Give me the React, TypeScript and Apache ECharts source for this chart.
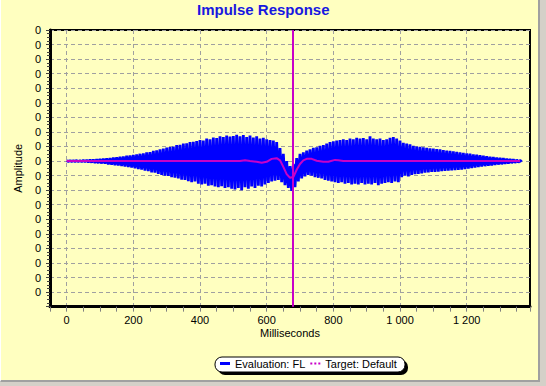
import React, { useEffect, useRef } from 'react';
import * as echarts from 'echarts';

// Evaluation: FL — upper / lower peaks of the dense response, one pair per 10 ms from 0 ms
const EVAL_STEP_MS = 10;
const EVAL_UPPER = [
  0.02, 0.02, 0.02, 0.03, 0.03, 0.05, 0.06, 0.08, 0.1, 0.12,
  0.14, 0.16, 0.18, 0.2, 0.24, 0.26, 0.3, 0.32, 0.36, 0.38,
  0.42, 0.46, 0.5, 0.52, 0.6, 0.62, 0.7, 0.74, 0.8, 0.85,
  0.92, 0.96, 1.0, 1.1, 1.12, 1.2, 1.22, 1.3, 1.32, 1.38,
  1.45, 1.4, 1.55, 1.5, 1.62, 1.58, 1.7, 1.65, 1.75, 1.68,
  1.72, 1.8, 1.7, 1.78, 1.65, 1.75, 1.62, 1.7, 1.55, 1.6,
  1.5, 1.45, 1.4, 1.3, 0.9, 0.5, 0.0, -0.35, -0.2, 0.2,
  0.5, 0.6, 0.72, 0.8, 0.9, 0.95, 1.05, 1.1, 1.2, 1.3,
  1.35, 1.4, 1.45, 1.5, 1.45, 1.55, 1.5, 1.6, 1.55, 1.58,
  1.5, 1.7, 1.55, 1.5, 1.55, 1.45, 1.5, 1.6, 1.65, 1.55,
  1.4, 1.25, 1.2, 1.15, 1.05, 1.0, 0.98, 0.95, 0.9, 0.88,
  0.85, 0.82, 0.8, 0.75, 0.72, 0.7, 0.66, 0.63, 0.6, 0.56,
  0.52, 0.5, 0.46, 0.43, 0.4, 0.36, 0.33, 0.3, 0.27, 0.24,
  0.22, 0.2, 0.17, 0.14, 0.11, 0.08, 0.05,
];
const EVAL_LOWER = [
  -0.02, -0.02, -0.02, -0.03, -0.04, -0.05, -0.07, -0.09, -0.12, -0.14,
  -0.16, -0.18, -0.22, -0.25, -0.28, -0.3, -0.34, -0.38, -0.42, -0.45,
  -0.5, -0.55, -0.58, -0.66, -0.7, -0.78, -0.8, -0.88, -0.95, -1.0,
  -1.02, -1.1, -1.15, -1.2, -1.28, -1.3, -1.38, -1.45, -1.4, -1.55,
  -1.6, -1.55, -1.7, -1.65, -1.75, -1.8, -1.72, -1.85, -1.8, -1.9,
  -1.95, -1.85, -2.0, -1.8, -1.9, -1.75, -1.85, -1.7, -1.75, -1.6,
  -1.5, -1.4, -1.35, -1.3, -1.45, -1.65, -1.85, -2.05, -1.8, -1.4,
  -1.2, -1.05, -0.95, -1.0, -1.1, -1.15, -1.2, -1.3, -1.35, -1.4,
  -1.45, -1.5, -1.45, -1.55, -1.5, -1.6, -1.55, -1.6, -1.5, -1.6,
  -1.55, -1.6, -1.5, -1.65, -1.55, -1.5, -1.45, -1.5, -1.4, -1.45,
  -1.1, -1.0, -1.05, -0.95, -0.9, -0.88, -0.85, -0.8, -0.78, -0.75,
  -0.74, -0.72, -0.7, -0.68, -0.66, -0.64, -0.62, -0.6, -0.58, -0.55,
  -0.52, -0.48, -0.45, -0.42, -0.38, -0.35, -0.32, -0.3, -0.27, -0.24,
  -0.22, -0.19, -0.17, -0.14, -0.11, -0.08, -0.05,
];

// Target: Default
const TARGET_T = [0, 520, 535, 550, 570, 585, 600, 615, 630, 640, 650, 660, 670, 680, 690, 700, 710, 720, 735, 750, 770, 785, 805, 815, 830, 1360];
const TARGET_V = [0, 0, 0.05, 0, -0.05, -0.12, -0.05, 0.15, 0.2, 0.05, -0.4, -0.9, -1.15, -1.1, -0.6, -0.2, 0.05, 0.15, 0.15, 0.02, -0.05, -0.05, 0.08, 0.06, 0, 0];
const MARKER_MS = 678;

// axes
const X_MIN = -50;
const X_MAX = 1390;
const X_MINOR_STEP = 50;
const X_LABEL_MIN = 0;
const X_LABEL_MAX = 1200;
const X_LABEL_STEP = 200;
const Y_MIN = -10;
const Y_MAX = 9;
const Y_STEP = 1;
const Y_TICK_LABEL = '0';

const TITLE = 'Impulse Response';
const SERIES_NAMES = ['Evaluation: FL', 'Target: Default'];

const FONT = 'Liberation Sans, Arial, sans-serif';

function fmtThousands(v: number): string {
  if (Math.abs(v) >= 1000) {
    const th = Math.floor(v / 1000);
    const rest = String(v % 1000).padStart(3, '0');
    return th + ' ' + rest;
  }
  return String(v);
}

export default function App() {
  const ref = useRef<HTMLDivElement>(null);
  useEffect(() => {
    document.body.style.margin = '0';
    if (!ref.current) return;
    const chart = echarts.init(ref.current, null, { renderer: 'svg' });

    const evalData: [number, number][] = [];
    EVAL_UPPER.forEach((u, i) => {
      const t = i * EVAL_STEP_MS;
      evalData.push([t, u]);
      evalData.push([t + EVAL_STEP_MS / 2, EVAL_LOWER[i]]);
    });
    const targetData = TARGET_T.map((t, i) => [t, TARGET_V[i]]);

    const gridTop = 30;
    const gridBottom = 386 - 306.67;
    const gridLeft = 50;
    const gridRight = 546 - 530;
    const pxPerMs = (530 - 50) / (X_MAX - X_MIN);
    const lab0 = gridLeft + (X_LABEL_MIN - X_MIN) * pxPerMs;
    const lab1 = gridLeft + (X_LABEL_MAX - X_MIN) * pxPerMs;

    const option: any = {
      animation: false,
      backgroundColor: 'transparent',
      textStyle: { fontFamily: FONT },
      title: {
        text: TITLE,
        left: 197,
        top: 2,
        padding: 0,
        textStyle: { color: '#1818E0', fontSize: 15, fontWeight: 'bold', fontFamily: FONT },
      },
      graphic: [
        { type: 'rect', z: 1, shape: { x: 218, y: 360, width: 190, height: 15, r: 7 }, style: { fill: '#000' } },
        { type: 'rect', z: 1, shape: { x: 215, y: 357, width: 190, height: 15, r: 7 }, style: { fill: '#fff', stroke: '#000', lineWidth: 1 } },
      ],
      legend: {
        left: 220,
        top: 358,
        padding: 0,
        itemGap: 5,
        itemWidth: 10,
        itemHeight: 3,
        z: 6,
        textStyle: { fontSize: 11, color: '#000', fontFamily: FONT },
        data: [
          { name: SERIES_NAMES[0], icon: 'rect' },
          { name: SERIES_NAMES[1], icon: 'path://M0,0h2v2h-2zM4,0h2v2h-2zM8,0h2v2h-2z' },
        ],
      },
      grid: [
        {
          left: gridLeft, right: gridRight, top: gridTop, bottom: gridBottom,
          show: true, borderColor: '#000', borderWidth: 2, backgroundColor: 'transparent',
        },
        {
          left: lab0, right: 546 - lab1, top: gridTop, bottom: gridBottom,
          show: false,
        },
      ],
      xAxis: [
        {
          type: 'value', gridIndex: 0, min: X_MIN, max: X_MAX, interval: X_MINOR_STEP,
          name: 'Milliseconds', nameLocation: 'middle', nameGap: 21,
          nameTextStyle: { fontSize: 11, color: '#000', fontFamily: FONT },
          axisLine: { show: true, onZero: false, lineStyle: { color: '#000', width: 3 } },
          axisTick: { show: true, length: 5, lineStyle: { color: '#808080', width: 1 } },
          axisLabel: { show: false },
          splitLine: { show: false },
        },
        {
          type: 'value', gridIndex: 1, min: X_LABEL_MIN, max: X_LABEL_MAX, interval: X_LABEL_STEP,
          axisLine: { show: false },
          axisTick: { show: false },
          axisLabel: {
            show: true, margin: 8, fontSize: 11, color: '#000', fontFamily: FONT,
            formatter: (v: number) => fmtThousands(v),
          },
          splitLine: { show: true, lineStyle: { color: '#A0A0A0', type: [4, 3], width: 1 } },
        },
      ],
      yAxis: [
        {
          type: 'value', gridIndex: 0, min: Y_MIN, max: Y_MAX, interval: Y_STEP,
          name: 'Amplitude', nameLocation: 'middle', nameGap: 21, nameRotate: 90,
          nameTextStyle: { fontSize: 11, color: '#000', fontFamily: FONT },
          axisLine: { show: true, onZero: false, lineStyle: { color: '#000', width: 3 } },
          axisTick: { show: true, length: 4, lineStyle: { color: '#404040', width: 1 } },
          minorTick: { show: true, splitNumber: 4, length: 3, lineStyle: { color: '#404040', width: 1 } },
          axisLabel: {
            show: true, margin: 9, fontSize: 11, color: '#000', fontFamily: FONT,
            formatter: (v: number) => (v === Y_MIN ? '' : Y_TICK_LABEL),
          },
          splitLine: { show: true, lineStyle: { color: '#A0A0A0', type: [4, 3], width: 1 } },
        },
        {
          type: 'value', gridIndex: 1, min: 0, max: 1, show: false,
        },
      ],
      series: [
        {
          name: SERIES_NAMES[0],
          type: 'line',
          xAxisIndex: 0, yAxisIndex: 0,
          data: evalData,
          showSymbol: false,
          symbol: 'none',
          z: 2,
          color: '#0000FF',
          itemStyle: { color: '#0000FF' },
          lineStyle: { color: '#0000FF', width: 2.8, join: 'bevel' },
        },
        {
          name: SERIES_NAMES[1],
          type: 'line',
          xAxisIndex: 0, yAxisIndex: 0,
          data: targetData,
          showSymbol: false,
          symbol: 'none',
          z: 3,
          color: '#C800C8',
          itemStyle: { color: '#C800C8' },
          lineStyle: { color: '#C800C8', width: 2 },
          markLine: {
            silent: true,
            symbol: 'none',
            label: { show: false },
            lineStyle: { color: '#C800C8', width: 2, type: 'solid' },
            data: [{ xAxis: MARKER_MS }],
          },
        },
      ],
    };
    chart.setOption(option);
    return () => chart.dispose();
  }, []);

  return (
    <div style={{ position: 'relative', width: 546, height: 386, background: '#D4D0C8', overflow: 'hidden' }}>
      <div
        style={{
          position: 'absolute', left: 0, top: 0, width: 537, height: 380,
          background: '#FFFFC0',
          borderLeft: '1px solid #FFFFFF',
          borderRight: '2px solid #A0A0A0',
          borderBottom: '2px solid #A0A0A0',
        }}
      />
      <div ref={ref} style={{ position: 'absolute', left: 0, top: 0, width: 546, height: 386 }} />
    </div>
  );
}
